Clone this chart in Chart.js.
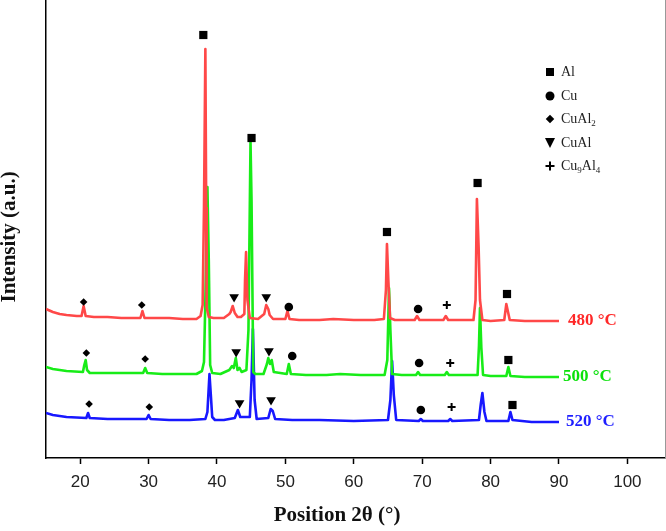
<!DOCTYPE html>
<html>
<head>
<meta charset="utf-8">
<script src="https://cdn.jsdelivr.net/npm/chart.js@4.4.1/dist/chart.umd.min.js"></script>
<style>
  html, body { margin: 0; padding: 0; background: #fff; }
  #wrap { position: relative; width: 666px; height: 531px; }
  #legend { position: absolute; left: 0; top: 0; font-family: "Liberation Serif", "Times New Roman", serif; font-size: 14px; color: #222; }
  .item { position: absolute; left: 561px; line-height: 14px; white-space: nowrap; transform: translateY(-50%); }
  .item sub { font-size: 9px; vertical-align: -3px; line-height: 0; }
  .sym { position: absolute; background: #000; transform: translate(-50%, -50%); }
</style>
</head>
<body>
<div id="wrap">
  <canvas id="xrd" width="666" height="531"></canvas>
  <div id="legend"></div>
</div>
<script>
// 2theta / intensity (a.u., with offsets)
const pattern480 = [[15,149],[16,146],[17,144],[18,143],[19.5,142],[20.2,142],[20.5,152],[20.8,142],[22,141],[24,141],[26,140],[28,140],
  [28.8,140],[29.1,147],[29.4,140],[31,140],[33,140],[35,139],[37,139],[37.6,142],[37.9,153],[38.1,251],[38.3,409],[38.42,250],
  [38.5,150],[38.8,141],[39.5,140],[41,140],[41.8,144],[42.0,146],[42.3,152],[42.6,145],[43.0,141],[43.5,141],[44.0,144],[44.1,178],
  [44.25,206],[44.45,158],[44.8,140],[46,139],[46.9,144],[47.2,153],[47.5,149],[47.7,143],[48.2,139],[50.0,139],[50.3,147],[50.6,139],
  [52,138],[55,138],[57,139],[60,138],[63,138],[64.4,139],[64.7,168],[64.85,214],[65.05,178],[65.3,140],[66,138],[68.9,138],[69.25,142],
  [69.6,138],[73.1,138],[73.45,142],[73.8,138],[77.5,138],[77.8,158],[78.0,259],[78.25,211],[78.45,158],[78.8,138],[80,137],[82.0,138],
  [82.3,154],[82.55,146],[82.8,138],[85,137],[87,137],[90,137]];
const pattern500 = [[15,91],[16,89],[17,88],[18,87],[20.4,86],[20.6,93],[20.8,98],[21.0,88],[21.4,85],[23,85],[26,85],[29.2,85],
  [29.5,90],[29.8,85],[32,84],[35,84],[37,84],[37.8,87],[38.1,96],[38.3,158],[38.6,271],[38.8,198],[39.0,93],[39.3,85],[40.5,84],
  [41.8,88],[42.2,92],[42.45,90],[42.75,100],[43.0,88],[43.3,90],[43.6,86],[44.3,88],[44.6,128],[44.9,316],[45.05,258],[45.3,86],
  [45.6,84],[46.8,84],[47.3,94],[47.5,100],[47.75,94],[48.0,98],[48.3,86],[50.2,84],[50.5,94],[50.8,84],[53,83],[56,83],[58,84],
  [61,83],[64.5,83],[64.9,98],[65.15,170],[65.35,128],[65.6,84],[67,83],[69.1,83],[69.4,86],[69.7,83],[73.3,83],[73.6,86],[73.9,83],
  [78.1,83],[78.3,112],[78.45,150],[78.65,110],[78.9,83],[80,82],[82.3,82],[82.6,91],[82.9,82],[85,81],[90,81]];
const pattern520 = [[15,45],[16,43],[17,42],[18,41],[20.9,40],[21.15,45],[21.4,40],[24,39],[27,39],[29.7,39],[30.0,43],[30.3,39],
  [33,38],[36,38],[38.3,39],[38.6,46],[38.9,84],[39.1,63],[39.3,41],[39.7,38],[41,38],[42.6,40],[43.05,48],[43.4,41],[44.8,41],
  [45.05,78],[45.25,129],[45.5,58],[45.8,39],[47.5,40],[47.85,49],[48.15,47],[48.5,39],[51,38],[55,38],[60,37],[65.0,38],[65.35,58],
  [65.6,97],[65.85,63],[66.2,38],[69.5,37],[69.8,39],[70.1,37],[73.8,37],[74.1,39],[74.4,37],[78.3,38],[78.55,53],[78.8,65],[79.1,46],
  [79.4,37],[82.6,37],[82.9,46],[83.2,38],[86,36],[90,36]];

const seriesNames = ['480 °C', '500 °C', '520 °C'];
const seriesColors = ['rgb(255,72,72)', 'rgb(24,236,24)', 'rgb(24,24,255)'];
const labelColors = ['rgb(255,40,40)', 'rgb(10,225,10)', 'rgb(30,30,255)'];

// phase markers (2theta, height)
const markAl = [[38.0,423],[45.05,320],[64.85,226],[78.1,275],[82.4,164],[82.6,98],[83.2,53]];
const markCu = [[50.5,151],[51.0,102],[69.4,149],[69.55,95],[69.8,48]];
const markCuAl2 = [[20.5,156],[29.0,153],[20.9,105],[29.5,99],[21.3,54],[30.1,51]];
const markCuAl = [[42.5,161],[47.2,161],[42.8,106],[47.6,107],[43.3,55],[47.9,58]];
const markCu9Al4 = [[73.6,153],[74.1,95],[74.3,51]];

const toXY = arr => arr.map(p => ({ x: p[0], y: p[1] }));

const markerSets = [
  { data: markAl, pointStyle: 'rect', pointRadius: 5.8, rotation: 0 },
  { data: markCu, pointStyle: 'circle', pointRadius: 4.3, rotation: 0 },
  { data: markCuAl2, pointStyle: 'rectRot', pointRadius: 3.8, rotation: 0 },
  { data: markCuAl, pointStyle: 'triangle', pointRadius: 5.6, rotation: 180 },
  { data: markCu9Al4, pointStyle: 'cross', pointRadius: 4, rotation: 0 },
];

const datasets = [];
markerSets.forEach(m => {
  datasets.push({
    data: toXY(m.data),
    showLine: false,
    pointStyle: m.pointStyle,
    pointRadius: m.pointRadius,
    pointRotation: m.rotation,
    pointBackgroundColor: '#000',
    pointBorderColor: '#000',
    pointBorderWidth: m.pointStyle === 'cross' ? 2 : 0,
    order: 0,
  });
});
[pattern480, pattern500, pattern520].forEach((p, i) => {
  datasets.push({
    data: toXY(p),
    showLine: true,
    borderColor: seriesColors[i],
    borderWidth: 2.6,
    borderJoinStyle: 'round',
    pointRadius: 0,
    tension: 0,
    order: i + 1,
  });
});

const tempLabels = {
  id: 'tempLabels',
  afterDatasetsDraw(chart) {
    const { ctx, scales: { x, y } } = chart;
    const dx = [9, 4, 7];
    ctx.save();
    ctx.font = 'bold 17px "Liberation Serif"';
    ctx.textBaseline = 'middle';
    [pattern480, pattern500, pattern520].forEach((p, i) => {
      const last = p[p.length - 1];
      ctx.fillStyle = labelColors[i];
      ctx.fillText(seriesNames[i], x.getPixelForValue(last[0]) + dx[i], y.getPixelForValue(last[1]));
    });
    ctx.restore();
  }
};

new Chart(document.getElementById('xrd'), {
  type: 'scatter',
  data: { datasets },
  options: {
    responsive: false,
    animation: false,
    layout: { autoPadding: false, padding: { left: 0, right: 1, top: 0, bottom: 0 } },
    plugins: { legend: { display: false }, tooltip: { enabled: false } },
    scales: {
      x: {
        type: 'linear',
        min: 15,
        max: 105.5,
        afterFit: s => { s.height = 73; s.paddingLeft = 0; s.paddingRight = 0; },
        border: { display: true, color: '#000', width: 1.5 },
        grid: { display: true, drawOnChartArea: false, drawTicks: true, tickLength: 6, tickColor: '#000', tickWidth: 1.5 },
        ticks: { stepSize: 10, includeBounds: false, autoSkip: false, maxRotation: 0, padding: 8, color: '#222',
          font: { family: '"Liberation Sans", Arial, sans-serif', size: 17 } },
        title: { display: true, text: 'Position 2θ (°)\u00a0\u00a0\u00a0\u00a0\u00a0\u00a0\u00a0', color: '#111',
          padding: { top: 0, bottom: 3 }, font: { family: '"Liberation Serif", "Times New Roman", serif', size: 21, weight: 'bold' } }
      },
      y: {
        min: 0,
        max: 458,
        afterFit: s => { s.width = 46; s.paddingTop = 0; s.paddingBottom = 0; },
        border: { display: true, color: '#000', width: 1.5 },
        grid: { display: false },
        ticks: { display: false },
        title: { display: true, text: 'Intensity (a.u.)\u00a0\u00a0\u00a0', color: '#111', padding: { top: 0, bottom: 0 },
          font: { family: '"Liberation Serif", "Times New Roman", serif', size: 21, weight: 'bold', lineHeight: 0.95 } }
      },
      yr: {
        position: 'right',
        afterFit: s => { s.width = 0; s.paddingTop = 0; s.paddingBottom = 0; },
        border: { display: true, color: '#999', width: 1 },
        grid: { display: false },
        ticks: { display: false }
      }
    }
  },
  plugins: [tempLabels]
});

// legend with subscripts
const legendItems = [
  { html: 'Al', sym: 'square' },
  { html: 'Cu', sym: 'circle' },
  { html: 'CuAl<sub>2</sub>', sym: 'diamond' },
  { html: 'CuAl', sym: 'triangle' },
  { html: 'Cu<sub>9</sub>Al<sub>4</sub>', sym: 'plus' },
];
const legendRowY = [72, 96, 119, 143, 166];
const legend = document.getElementById('legend');
legendItems.forEach((it, i) => {
  const y = legendRowY[i];
  const t = document.createElement('div');
  t.className = 'item';
  t.style.top = y + 'px';
  t.innerHTML = it.html;
  legend.appendChild(t);
  const add = css => {
    const d = document.createElement('div');
    d.className = 'sym';
    Object.assign(d.style, { left: '550px', top: y + 'px' }, css);
    legend.appendChild(d);
  };
  if (it.sym === 'square') add({ width: '8px', height: '8px' });
  if (it.sym === 'circle') add({ width: '9px', height: '9px', borderRadius: '50%' });
  if (it.sym === 'diamond') add({ width: '6px', height: '6px', transform: 'translate(-50%,-50%) rotate(45deg)' });
  if (it.sym === 'triangle') add({ width: '0', height: '0', background: 'none', borderLeft: '5.5px solid transparent', borderRight: '5.5px solid transparent', borderTop: '10px solid #000' });
  if (it.sym === 'plus') { add({ width: '9px', height: '2px' }); add({ width: '2px', height: '9px' }); }
});
</script>
</body>
</html>
